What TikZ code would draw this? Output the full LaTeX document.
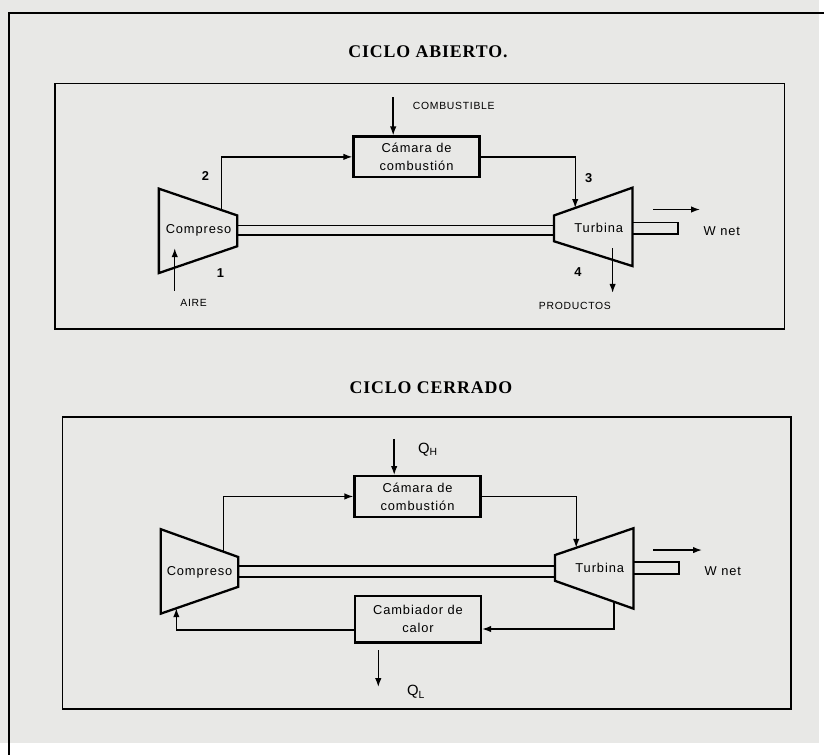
\documentclass[tikz,border=0pt]{standalone}
\usepackage{fontspec}
\setmainfont{Liberation Serif}[LetterSpace=5]
\setsansfont{Liberation Sans}[LetterSpace=7]
\usetikzlibrary{positioning,arrows.meta,calc}
\definecolor{paper}{RGB}{232,232,230}

\begin{document}
\begin{tikzpicture}[x=1bp, y=-1bp,
  frame/.style={draw, line width=1.8bp},
  unit/.style={draw, line width=2.3bp, line join=miter},
  shaft/.style={draw, line width=1.7bp},
  box/.style={draw, line width=2.2bp, minimum width=127bp, minimum height=41bp, align=center, inner sep=0pt, font=\sffamily\fontsize{13}{18}\selectfont},
  arrow/.style={-{Latex[length=9bp,width=6.5bp]}, line width=1.4bp},
  title/.style={font=\bfseries\fontsize{18}{20}\selectfont},
  lbl/.style={font=\sffamily\fontsize{13}{15}\selectfont},
  small/.style={font=\sffamily\fontsize{10.5}{12}\selectfont},
  num/.style={font=\sffamily\bfseries\fontsize{13}{14}\selectfont}
]
\fill[paper] (0,0) rectangle (825,748);
\draw[frame] (9,760) -- (9,13) -- (830,13);

% ciclo abierto
\node[title] (titleA) at (431,52) {CICLO ABIERTO.};
\draw[frame] (55,84) rectangle (790,331);

\draw[unit] (160,190) coordinate (c1tl) -- (239,217) coordinate (c1tr)
  -- (239,248) coordinate (c1br) -- (160,275) coordinate (c1bl) -- cycle;
\draw[unit] (558,217) coordinate (t1tl) -- (637,189) coordinate (t1tr)
  -- (637,268) coordinate (t1br) -- (558,243) coordinate (t1bl) -- cycle;
\draw[shaft] (239,227) -- (558,227) (239,237) -- (558,237);
\draw[shaft] (637,224) -- (683,224) -- (683,236) -- (637,236);

\node[lbl] (comp1) at (200,232) {Compreso};
\node[lbl] (turb1) at (603,230) {Turbina};
\node[box] (cam1) at (419.5,158) {Cámara de\\combustión};

\coordinate (fuel1) at (396,98);
\coordinate (air1) at (176,293);
\coordinate (prod1) at (617,250);
\coordinate (w1) at (658,211);
\node[small] (fuelA) at (457,107) {COMBUSTIBLE};
\node[small] (airA) at (195,305) {AIRE};
\node[small] (prodA) at (579,308) {PRODUCTOS};
\node[lbl] (wnetA) at (727,233) {W net};
\node[num] (n1) at (222,275) {1};
\node[num] (n2) at (207,177) {2};
\node[num] (n3) at (593,179) {3};
\node[num] (n4) at (582,274) {4};

\draw[arrow] ($(c1tl)!0.8!(c1tr)$) |- (cam1);
\draw[arrow] (cam1) -| ($(t1tl)!0.27!(t1tr)$);
\draw[arrow] (fuel1) -- (fuel1 |- cam1.north);
\draw[arrow] (air1) -- ++(0,-43);
\draw[arrow] (prod1) -- ++(0,45);
\draw[arrow] (w1) -- ++(47,0);

% ciclo cerrado
\node[title] (titleB) at (434,390) {CICLO CERRADO};
\draw[frame] (63,420) rectangle (797,714);

\draw[unit] (162,533) coordinate (c2tl) -- (240,561) coordinate (c2tr)
  -- (240,591) coordinate (c2br) -- (162,618) coordinate (c2bl) -- cycle;
\draw[unit] (559,559) coordinate (t2tl) -- (638,532) coordinate (t2tr)
  -- (638,613) coordinate (t2br) -- (559,585) coordinate (t2bl) -- cycle;
\draw[shaft] (240,570) -- (559,570) (240,581) -- (559,581);
\draw[shaft] (638,566) -- (684,566) -- (684,578) -- (638,578);

\node[lbl] (comp2) at (201,576) {Compreso};
\node[lbl] (turb2) at (604,572) {Turbina};
\node[box] (cam2) at (420.5,500) {Cámara de\\combustión};
\node[box, minimum height=47bp] (cool) at (421,623.5) {Cambiador de\\calor};

\coordinate (qh) at (397,442);
\coordinate (ql) at (381,655);
\coordinate (w2) at (658,554);
\node[font=\sffamily\fontsize{15}{16}\selectfont] (qhA) at (431,453) {Q\textsubscript{H}};
\node[font=\sffamily\fontsize{15}{16}\selectfont] (qlA) at (419,697) {Q\textsubscript{L}};
\node[lbl] (wnetB) at (728,575) {W net};

\draw[arrow] ($(c2tl)!0.81!(c2tr)$) |- (cam2);
\draw[arrow] (cam2) -| ($(t2tl)!0.27!(t2tr)$);
\draw[arrow] ($(t2bl)!0.75!(t2br)$) |- ([yshift=-10bp]cool.east);
\draw[arrow] ([yshift=-11bp]cool.west) -| ($(c2bl)!0.2!(c2br)$);
\draw[arrow] (qh) -- (qh |- cam2.north);
\draw[arrow] (ql) -- ++(0,37);
\draw[arrow] (w2) -- ++(49,0);
\end{tikzpicture}
\end{document}
